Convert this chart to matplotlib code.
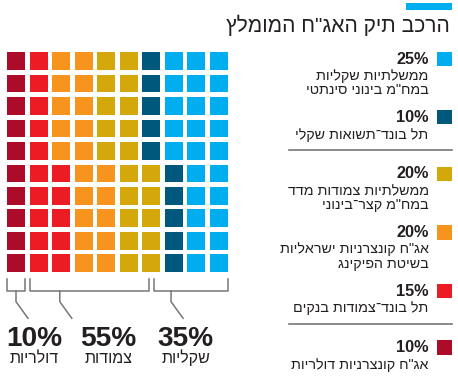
# waffle chart of the recommended bond portfolio (Hebrew labels)
import matplotlib
matplotlib.use('Agg')
import matplotlib.pyplot as plt
from matplotlib.patches import Rectangle

plt.rcParams['font.family'] = ['Liberation Sans', 'DejaVu Sans']

# data (legend order, top to bottom)
title = 'הרכב תיק האג"ח המומלץ'
legend_pcts = [25, 10, 20, 20, 15, 10]
legend_colors = ['#00adee', '#00587c', '#d4a80a', '#f7941e', '#ec1c24', '#ac0c2a']
legend_lines = [
    ['ממשלתיות שקליות', 'במח"מ בינוני סינתטי'],
    ['תל בונד־תשואות שקלי'],
    ['ממשלתיות צמודות מדד', 'במח"מ קצר־בינוני'],
    ['אג"ח קונצרניות ישראליות', 'בשיטת הפיקינג'],
    ['תל בונד־צמודות בנקים'],
    ['אג"ח קונצרניות דולריות'],
]
sep_after = [1, 4]
group_names = ['דולריות', 'צמודות', 'שקליות']
group_members = [[5], [4, 3, 2], [1, 0]]

TXT = '#231f20'
GRAY = '#777777'


def rtl(s):
    # matplotlib has no bidi, so put hebrew in visual order
    return s[::-1]


def px(p):
    return p * 72 / 100


fig = plt.figure(figsize=(4.58, 3.85), dpi=100)
ax = fig.add_axes([0, 0, 1, 1])
ax.set_xlim(0, 458)
ax.set_ylim(385, 0)
ax.axis('off')

# title and the blue tab above it
ax.add_patch(Rectangle((405.7, 3.3), 46.6, 6.7, color='#00adee', lw=0))
ax.text(450, 31.5, rtl(title), ha='right', va='baseline', fontsize=px(21), color=TXT)

# waffle grid, filled column by column from the bottom, left to right
x0, y0, pitch_x, pitch_y, size = 7.3, 52.3, 22.5, 22.45, 17.7
grid_order = list(range(len(legend_pcts)))[::-1]
cell_colors = []
for k in grid_order:
    cell_colors += [legend_colors[k]] * legend_pcts[k]
for i, c in enumerate(cell_colors):
    col, row = i // 10, 9 - i % 10
    ax.add_patch(Rectangle((x0 + col * pitch_x, y0 + row * pitch_y), size, size, color=c, lw=0))

# brackets under the grid
leader_off = [8.7, 30, 17.4]
label_x = [34.5, 108.5, 185.5]
start = 0
for g, members in enumerate(group_members):
    total = sum(legend_pcts[m] for m in members)
    s, e = start, start + total - 1
    start += total
    cs, ce = s // 10, e // 10
    left = x0 + cs * pitch_x + (size / 2 + 2.5 if s % 10 else 0)
    right = x0 + ce * pitch_x + (size / 2 - 2.5 if e % 10 != 9 else size)
    ax.plot([left, left, right, right], [279, 291, 291, 279], color=GRAY, lw=1.1)
    lx = left + leader_off[g]
    ax.plot([lx, lx, lx + 12], [291, 301.7, 318.3], color=GRAY, lw=1.1)
    ax.text(label_x[g], 346.5, f'{total}%', ha='center', va='baseline', fontsize=px(28),
            fontweight='bold', color=TXT)
    ax.text(label_x[g], 363, rtl(group_names[g]), ha='center', va='baseline',
            fontsize=px(16), color=TXT)

# legend on the right
b = 63.5
for k, pct in enumerate(legend_pcts):
    ax.add_patch(Rectangle((437.3, b - 11.8), 15, 14.3, color=legend_colors[k], lw=0))
    ax.text(428.5, b, f'{pct}%', ha='right', va='baseline', fontsize=px(16.3),
            fontweight='bold', color=TXT)
    y = b + 16.5
    for j, line in enumerate(legend_lines[k]):
        if j:
            y += 14.5
        ax.text(428.5, y, rtl(line), ha='right', va='baseline', fontsize=px(14.3),
                color=TXT)
    if k in sep_after:
        sy = y + 11.5
        ax.plot([289, 452], [sy, sy], color=GRAY, lw=1.2)
        b = sy + 28.5
    else:
        b = y + 27.5

fig.savefig('out.png', dpi=100)
